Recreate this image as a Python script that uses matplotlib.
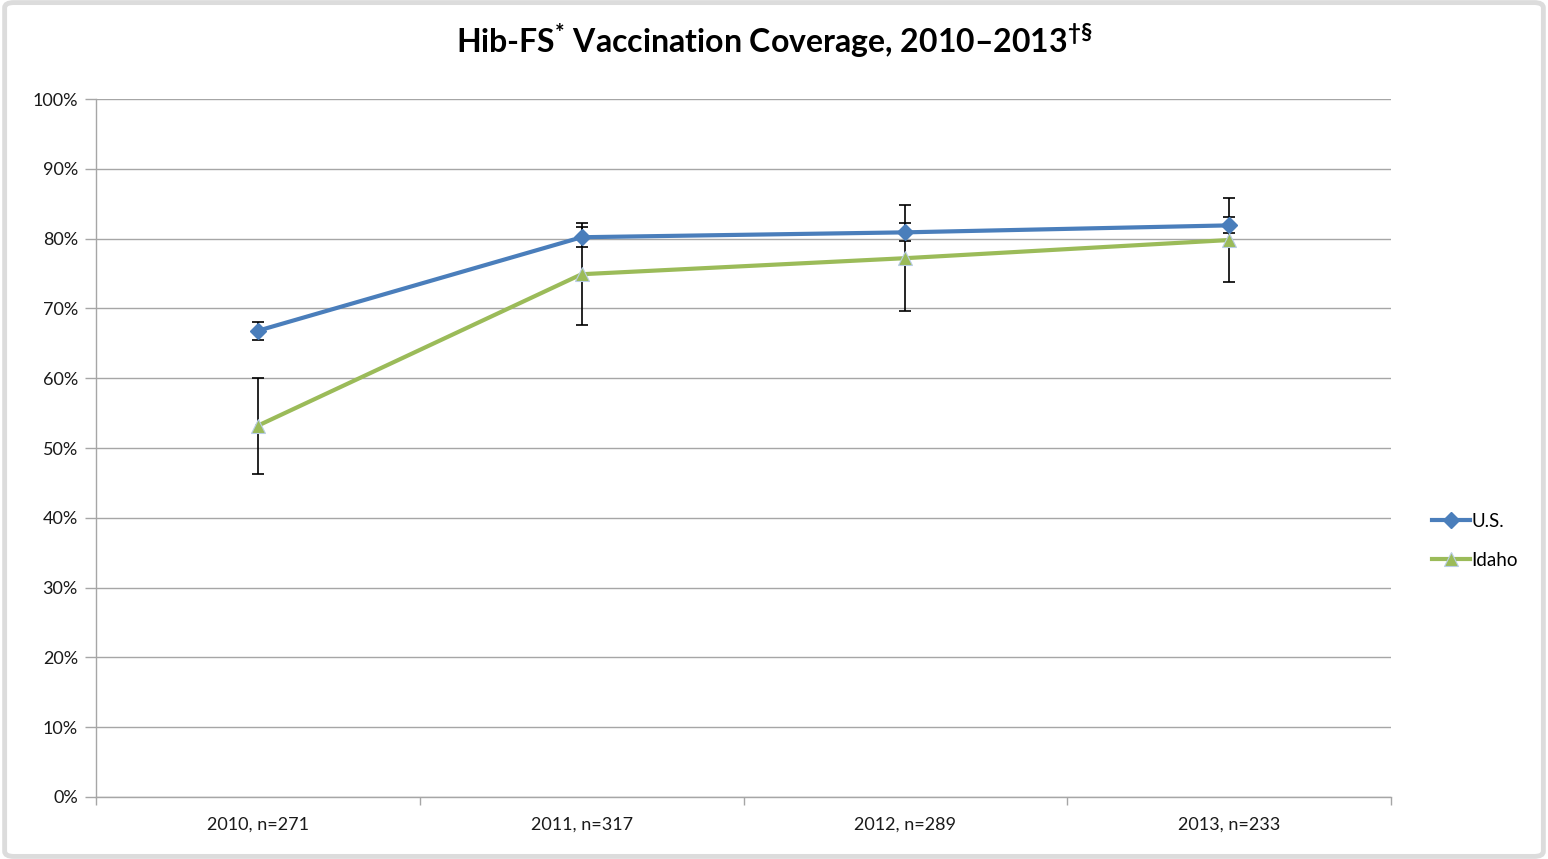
import matplotlib.pyplot as plt
from matplotlib.patches import FancyBboxPatch
from matplotlib.ticker import FixedLocator, PercentFormatter

# --- Data ---
categories = ["2010, n=271", "2011, n=317", "2012, n=289", "2013, n=233"]
us_values = [66.8, 80.2, 80.9, 81.9]
us_errors = [1.3, 1.4, 1.3, 1.15]
idaho_values = [53.2, 74.9, 77.2, 79.8]
idaho_errors = [6.9, 7.3, 7.6, 6.0]

US_COLOR = "#4A7EBB"
IDAHO_COLOR = "#9BBB59"
FONT = "Lato"

plt.rcParams["font.family"] = [FONT, "DejaVu Sans"]
plt.rcParams["mathtext.fontset"] = "custom"
plt.rcParams["mathtext.rm"] = "Lato:bold"
plt.rcParams["mathtext.it"] = "Lato:bold"
plt.rcParams["mathtext.bf"] = "Lato:bold"

fig = plt.figure(figsize=(15.48, 8.59), dpi=100)
fig.patch.set_facecolor("white")
# light frame around the chart, like the Excel chart area
frame = FancyBboxPatch((0.003, 0.003), 0.994, 0.994, boxstyle="round,pad=0,rounding_size=0.006",
                       transform=fig.transFigure, facecolor="none", edgecolor="#DCDCDC",
                       linewidth=3.5)
fig.patches.append(frame)

ax = fig.add_axes([0.062, 0.0722, 0.8366, 0.8125])
x = list(range(len(categories)))

# --- Error bars (behind lines) ---
ax.errorbar(x, us_values, yerr=us_errors, fmt="none", ecolor="black",
            elinewidth=1.2, capsize=4.5, capthick=1.2, zorder=3)
ax.errorbar(x, idaho_values, yerr=idaho_errors, fmt="none", ecolor="black",
            elinewidth=1.2, capsize=4.5, capthick=1.2, zorder=3)

# --- Lines ---
ax.plot(x, us_values, color=US_COLOR, linewidth=3, marker="D", markersize=8.5,
        markerfacecolor=US_COLOR, markeredgecolor=US_COLOR, label="U.S.", zorder=4)
ax.plot(x, idaho_values, color=IDAHO_COLOR, linewidth=3, marker="^", markersize=10,
        markerfacecolor=IDAHO_COLOR, markeredgecolor="#B9CDE5", markeredgewidth=0.8,
        label="Idaho", zorder=4)

# --- Axes styling ---
ax.set_xlim(-0.5, len(categories) - 0.5)
ax.set_ylim(0, 100)
ax.yaxis.set_major_locator(FixedLocator(range(0, 101, 10)))
ax.yaxis.set_major_formatter(PercentFormatter(decimals=0))
ax.grid(axis="y", color="#A6A6A6", linewidth=1.0)
ax.set_axisbelow(True)

ax.set_xticks(x)
ax.set_xticklabels(categories)
ax.xaxis.set_minor_locator(FixedLocator([i - 0.5 for i in range(len(categories) + 1)]))
ax.tick_params(axis="x", which="major", length=0, pad=14, labelsize=13, labelcolor="#1A1A1A")
ax.tick_params(axis="x", which="minor", length=6, color="#A6A6A6", width=1)
ax.tick_params(axis="y", length=8, color="#A6A6A6", width=1, pad=5,
               labelsize=13, labelcolor="#1A1A1A")

for side in ["top", "right"]:
    ax.spines[side].set_visible(False)
for side in ["left", "bottom"]:
    ax.spines[side].set_color("#A6A6A6")
    ax.spines[side].set_linewidth(1)

# --- Title ---
fig.text(0.5, 0.953, r"Hib-FS$^{*}$ Vaccination Coverage, 2010–2013$^{\dag\S}$",
         ha="center", va="center", fontsize=23, fontweight="bold", color="black")

# --- Legend ---
ax.legend(loc="center left", bbox_to_anchor=(1.026, 0.367), frameon=False,
          fontsize=13.5, handlelength=2.0, handletextpad=0.1, labelspacing=1.15,
          borderaxespad=0)

fig.savefig("out.png", dpi=100, facecolor=fig.get_facecolor())
